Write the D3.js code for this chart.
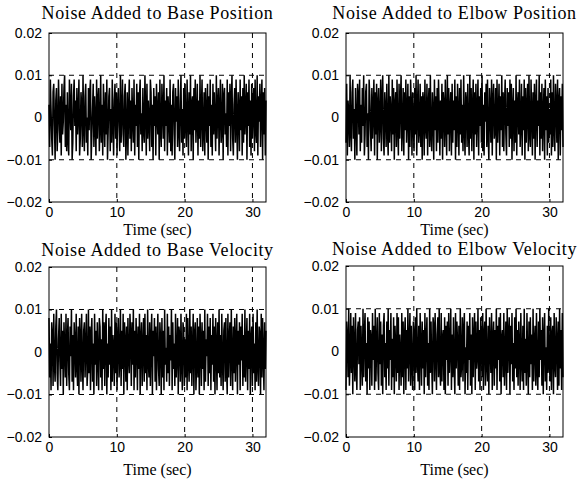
<!DOCTYPE html>
<html>
<head>
<meta charset="utf-8">
<script src="https://cdnjs.cloudflare.com/ajax/libs/d3/7.8.5/d3.min.js"></script>
<style>
body { margin: 0; background: #fff; }
svg { display: block; }
</style>
</head>
<body>
<svg id="fig" width="584" height="487"></svg>
<script>

// noise samples in thousandths (x 0.001), 0.1 s apart
const basePos = [
3,-7,9,2,-5,-9,6,8,-2,-10,4,7,-8,-3,9,1,-6,5,-9,8,
-4,-1,7,10,-7,3,-8,6,-5,-9,9,2,-3,8,-10,-6,5,9,-2,4,
-8,7,-4,1,9,-9,-5,6,3,-7,10,-2,-8,5,8,-6,0,-9,7,-3,
6,9,-10,-4,2,8,-7,5,-1,-9,9,-5,4,7,-8,-2,10,-6,3,-9,
8,1,-7,6,-4,9,-10,-3,5,7,-8,2,-6,9,-1,-9,4,8,-5,6,
-9,3,7,-2,-8,10,-6,1,9,-4,-7,5,8,-10,-3,6,-9,2,9,-5,
4,-8,7,0,-6,9,-9,3,-2,8,-7,6,-10,5,9,-4,1,-8,7,-3,
-6,10,2,-9,8,-5,4,-1,-8,9,6,-7,3,-10,7,-2,5,-9,8,1,
-4,6,-10,9,-3,-7,8,2,-5,10,-8,4,-2,7,-9,5,1,-6,9,-8,
3,-9,6,8,-4,-10,7,-1,5,-7,9,-3,-8,4,10,-6,2,-9,7,-5,
8,-2,-7,9,1,-9,6,-4,10,-8,3,5,-10,7,-3,9,-6,0,8,-9,
4,-5,10,-7,2,9,-8,-3,6,-9,7,1,-6,8,-10,5,-2,9,-7,3,
-9,8,-4,6,-1,-8,10,-5,3,7,-9,2,9,-6,-3,8,-10,5,7,-4,
1,-7,9,-9,6,-2,8,-8,4,10,-5,-9,3,7,-6,9,-1,-10,6,2,
-8,9,-3,5,-9,7,-6,10,-4,1,8,-10,6,-2,9,-7,4,-9,8,-5,
2,7,-8,9,-3,-6,10,-9,5,-1,8,-7,3,9,-10,6,-4,7,-9,4];

const elbowPos = [
-6,8,-9,4,1,-7,10,-3,-8,6,9,-5,2,-10,7,-1,-9,8,5,-4,
9,-8,3,-6,7,-2,10,-9,-4,6,8,-7,1,-10,9,5,-3,-8,7,-5,
2,9,-9,6,-4,8,-10,3,7,-6,-1,9,-8,4,10,-5,-9,6,2,-7,
8,-3,-9,10,-6,5,1,-8,9,-4,7,-10,3,6,-7,9,-2,-9,8,-5,
4,10,-8,-2,7,-9,6,-3,9,-6,1,8,-10,5,-7,9,3,-9,6,-1,
-8,7,-4,10,-9,2,9,-6,-3,8,-7,5,-10,6,4,-9,9,-2,-5,8,
-9,3,7,-7,10,-4,-8,6,1,-10,9,-3,5,-8,7,-6,9,2,-9,4,
-5,8,-10,6,3,-7,9,-1,-9,10,-4,7,-8,2,6,-9,8,-6,4,-3,
9,-10,5,-7,8,1,-9,7,-4,9,-6,3,-8,10,-2,-9,6,4,-7,8,
-3,-9,10,-5,7,-8,2,9,-10,6,-4,8,-7,1,9,-9,5,-2,7,-6,
10,-8,3,-9,6,-1,8,-7,9,-4,-10,7,2,-6,9,-9,4,8,-5,-3,
7,-10,9,-6,1,8,-9,5,-3,10,-7,6,-8,3,9,-4,-9,7,-2,6,
-7,9,-5,8,-10,2,7,-8,4,-6,10,-9,3,6,-4,9,-7,-1,8,-9,
5,-3,9,-10,7,-6,2,8,-8,10,-4,-7,9,1,-9,6,-5,8,-10,3,
9,-7,4,-2,10,-9,6,-5,8,-8,1,7,-10,9,-3,5,-9,7,-6,2,
-4,9,-9,6,-7,10,-2,-8,8,3,-6,9,-10,4,7,-9,5,-3,8,-7];

const baseVel = [
8,-6,2,-9,7,4,-8,9,-3,-7,6,10,-5,-9,3,8,-2,-8,9,-4,
5,-10,7,1,-6,9,-8,3,8,-5,-9,6,-1,10,-7,4,-9,7,2,-6,
9,-3,-8,6,-10,8,3,-7,9,-2,-9,5,7,-6,1,9,-8,-4,10,-5,
6,-9,4,8,-7,2,-10,9,-3,5,-8,7,-1,-9,8,6,-6,3,-9,10,
-4,7,-8,5,9,-10,2,-6,8,-3,6,-9,10,-7,4,1,-8,9,-5,7,
-9,3,8,-6,-2,10,-8,5,-4,9,-10,7,2,-7,6,-9,8,-1,-5,9,
4,-8,7,-3,10,-9,5,-6,8,2,-9,6,-4,9,-10,3,7,-8,1,8,
-7,9,-5,4,-9,10,-2,-6,7,-8,3,9,-10,5,-1,8,-7,6,-9,2,
9,-4,-8,7,3,-10,8,-6,5,-9,10,-3,1,-7,9,-5,6,-8,4,-2,
10,-9,7,-4,2,-8,9,-6,-1,8,-10,6,4,-7,9,-3,-9,7,5,-8,
3,-6,9,-9,8,-2,-7,10,-5,6,-8,1,9,-10,4,7,-9,-3,8,-6,
6,-10,9,2,-8,7,-4,5,-9,10,-7,3,-1,9,-8,6,-5,8,-9,4,
-3,9,-7,6,-10,8,1,-9,7,-5,10,-6,4,-8,9,-2,-9,5,7,-7,
8,-4,-10,9,-6,3,7,-8,10,-1,-9,6,-5,8,-7,2,9,-10,5,-3,
7,-9,6,-2,9,-8,4,-6,10,-7,1,8,-9,5,-4,9,-10,3,6,-8,
9,-5,2,-9,7,-7,10,-3,-8,6,4,-10,9,-6,8,-1,-9,7,-4,5];

const elbowVel = [
-9,7,3,-6,10,-8,-2,9,-5,6,-10,8,1,-7,9,-4,-9,5,7,-3,
8,-9,6,-1,-8,10,-6,4,9,-7,2,-10,8,-4,7,-9,5,3,-8,9,
-2,6,-9,10,-7,1,8,-5,-9,9,-3,7,-8,4,-10,6,9,-6,2,-9,
7,-4,10,-8,5,-2,9,-9,3,-6,8,-10,6,1,-7,9,-5,8,-9,4,
-1,-8,9,-6,7,-10,3,8,-9,5,-4,10,-7,2,9,-8,6,-3,-9,7,
4,-9,8,-5,10,-2,-7,6,-9,9,1,-8,7,-4,5,-10,9,-6,3,8,
-8,2,-9,10,-5,7,-3,-10,8,6,-7,9,-1,-9,4,8,-6,10,-4,-8,
9,-7,3,5,-9,8,-10,6,-2,7,-8,9,-5,1,10,-9,4,-6,8,-3,
-10,9,-4,7,2,-8,6,-9,10,-6,-3,8,-7,5,9,-10,1,-5,7,-9,
6,-2,9,-8,4,-10,8,-6,3,9,-9,7,-4,-1,10,-7,5,-9,8,2,
-6,9,-9,4,7,-8,10,-3,-7,6,-10,8,1,-5,9,-9,3,7,-8,5,
-4,10,-9,6,-2,8,-7,9,-10,3,5,-6,9,-8,-1,7,-9,10,-5,4,
8,-10,6,-3,9,-7,2,-9,8,-4,10,-6,5,-8,7,1,-9,9,-2,-7,
6,-9,10,-5,3,-8,9,-1,-10,7,-6,8,-3,4,-9,10,-7,2,6,-8,
9,-4,-9,7,-6,10,-2,5,-8,8,-10,3,9,-7,1,-9,6,-5,10,-3,
-7,8,-9,4,6,-10,9,-3,-6,8,2,-9,7,-8,10,-4,5,-9,9,-6];

const titles = ["Noise Added to Base Position", "Noise Added to Elbow Position",
                "Noise Added to Base Velocity", "Noise Added to Elbow Velocity"];
const xTicks = [0, 10, 20, 30];
const yTicks = [-0.02, -0.01, 0, 0.01, 0.02];
const tEnd = 32;

const series = [basePos, elbowPos, baseVel, elbowVel];

// panel boxes: left, top, width, height
const panels = [
  {x: 49, y: 33, w: 217, h: 169},
  {x: 346, y: 33, w: 217, h: 169},
  {x: 49, y: 267, w: 217, h: 170},
  {x: 346, y: 266, w: 217, h: 171}
];

const svg = d3.select("#fig");

panels.forEach(function(p, k) {
  const g = svg.append("g").attr("transform", "translate(" + p.x + "," + p.y + ")");
  const vals = series[k];
  const dt = tEnd / (vals.length - 1);

  const x = d3.scaleLinear().domain([0, tEnd]).range([0, p.w]);
  const y = d3.scaleLinear().domain([-0.02, 0.02]).range([p.h, 0]);

  const line = d3.line()
    .x((d, i) => x(i * dt))
    .y(d => y(d * 0.001));

  g.append("path")
    .datum(vals)
    .attr("d", line)
    .attr("fill", "none")
    .attr("stroke", "#000")
    .attr("stroke-width", 1.5);

  // grid
  g.selectAll(".gx").data(xTicks.filter(t => t > 0)).enter().append("line")
    .attr("x1", d => x(d)).attr("x2", d => x(d))
    .attr("y1", 0).attr("y2", p.h)
    .attr("stroke", "#000").attr("stroke-dasharray", "5,5");
  g.selectAll(".gy").data(yTicks.filter(t => Math.abs(t) < 0.015)).enter().append("line")
    .attr("x1", 0).attr("x2", p.w)
    .attr("y1", d => y(d)).attr("y2", d => y(d))
    .attr("stroke", "#000").attr("stroke-dasharray", "5,5");

  g.append("rect")
    .attr("width", p.w).attr("height", p.h)
    .attr("fill", "none").attr("stroke", "#000").attr("stroke-width", 1);

  const xAxis = g.append("g")
    .attr("transform", "translate(0," + p.h + ")")
    .call(d3.axisBottom(x).tickValues(xTicks).tickFormat(d3.format("d")).tickSizeInner(-3).tickSizeOuter(0).tickPadding(5));
  const yAxis = g.append("g")
    .call(d3.axisLeft(y).tickValues(yTicks).tickFormat(d => d === 0 ? "0" : d3.format(".2f")(d)).tickSizeInner(-3).tickSizeOuter(0).tickPadding(7));

  [xAxis, yAxis].forEach(a => {
    a.select(".domain").remove();
    a.selectAll("text").attr("font-family", "Liberation Sans, Arial, sans-serif").attr("font-size", 14).attr("fill", "#000");
  });

  g.append("text")
    .attr("x", p.w / 2).attr("y", k < 2 ? -14 : -11)
    .attr("text-anchor", "middle")
    .attr("font-family", "Liberation Serif, Times New Roman, serif")
    .attr("font-size", 18)
    .attr("letter-spacing", 0.6)
    .text(titles[k]);

  g.append("text")
    .attr("x", p.w / 2).attr("y", p.h + (k < 2 ? 33 : 38))
    .attr("text-anchor", "middle")
    .attr("font-family", "Liberation Serif, Times New Roman, serif")
    .attr("font-size", 16)
    .text("Time (sec)");
});

</script>
</body>
</html>
